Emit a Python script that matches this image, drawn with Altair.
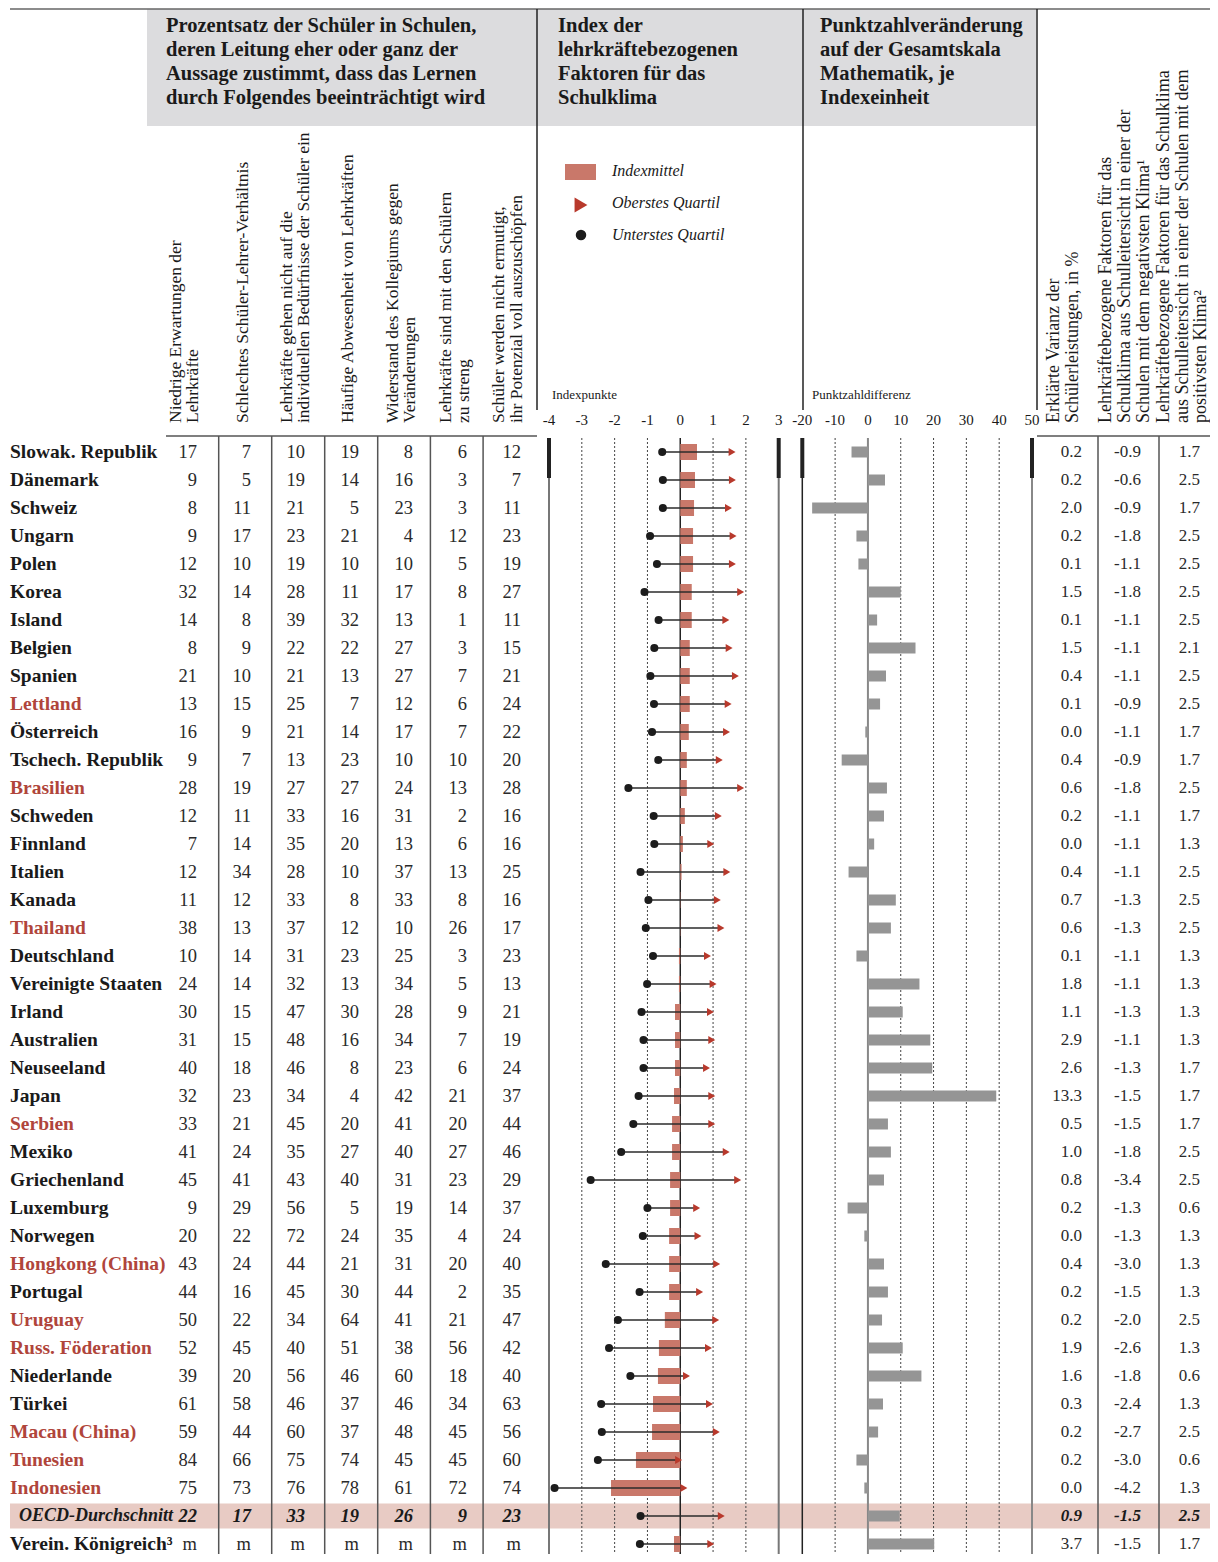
import altair as alt
import pandas as pd

# ---------------------------------------------------------------- data
COUNTRIES = [
    "Slowak. Republik", "Dänemark", "Schweiz", "Ungarn", "Polen", "Korea", "Island",
    "Belgien", "Spanien", "Lettland", "Österreich", "Tschech. Republik", "Brasilien",
    "Schweden", "Finnland", "Italien", "Kanada", "Thailand", "Deutschland",
    "Vereinigte Staaten", "Irland", "Australien", "Neuseeland", "Japan", "Serbien",
    "Mexiko", "Griechenland", "Luxemburg", "Norwegen", "Hongkong (China)", "Portugal",
    "Uruguay", "Russ. Föderation", "Niederlande", "Türkei", "Macau (China)", "Tunesien",
    "Indonesien", "OECD-Durchschnitt", "Verein. Königreich³",
]
PARTNER_COUNTRIES = [
    "Lettland", "Brasilien", "Thailand", "Serbien", "Hongkong (China)", "Uruguay",
    "Russ. Föderation", "Macau (China)", "Tunesien", "Indonesien",
]
AVERAGE_ROW = "OECD-Durchschnitt"

# percentage columns (None = "m")
LOW_EXPECTATIONS = [17, 9, 8, 9, 12, 32, 14, 8, 21, 13, 16, 9, 28, 12, 7, 12, 11, 38, 10, 24,
                    30, 31, 40, 32, 33, 41, 45, 9, 20, 43, 44, 50, 52, 39, 61, 59, 84, 75, 22, None]
STUDENT_TEACHER_RATIO = [7, 5, 11, 17, 10, 14, 8, 9, 10, 15, 9, 7, 19, 11, 14, 34, 12, 13, 14, 14,
                         15, 15, 18, 23, 21, 24, 41, 29, 22, 24, 16, 22, 45, 20, 58, 44, 66, 73, 17, None]
NOT_MEETING_NEEDS = [10, 19, 21, 23, 19, 28, 39, 22, 21, 25, 21, 13, 27, 33, 35, 28, 33, 37, 31, 32,
                     47, 48, 46, 34, 45, 35, 43, 56, 72, 44, 45, 34, 40, 56, 46, 60, 75, 76, 33, None]
TEACHER_ABSENCE = [19, 14, 5, 21, 10, 11, 32, 22, 13, 7, 14, 23, 27, 16, 20, 10, 8, 12, 23, 13,
                   30, 16, 8, 4, 20, 27, 40, 5, 24, 21, 30, 64, 51, 46, 37, 37, 74, 78, 19, None]
RESIST_CHANGE = [8, 16, 23, 4, 10, 17, 13, 27, 27, 12, 17, 10, 24, 31, 13, 37, 33, 10, 25, 34,
                 28, 34, 23, 42, 41, 40, 31, 19, 35, 31, 44, 41, 38, 60, 46, 48, 45, 61, 26, None]
TOO_STRICT = [6, 3, 3, 12, 5, 8, 1, 3, 7, 6, 7, 10, 13, 2, 6, 13, 8, 26, 3, 5,
              9, 7, 6, 21, 20, 27, 23, 14, 4, 20, 2, 21, 56, 18, 34, 45, 45, 72, 9, None]
NOT_ENCOURAGED = [12, 7, 11, 23, 19, 27, 11, 15, 21, 24, 22, 20, 28, 16, 16, 25, 16, 17, 23, 13,
                  21, 19, 24, 37, 44, 46, 29, 37, 24, 40, 35, 47, 42, 40, 63, 56, 60, 74, 23, None]

# index of teacher-related factors
IDX_MEAN = [0.51, 0.45, 0.42, 0.39, 0.39, 0.35, 0.35, 0.29, 0.29, 0.29, 0.26, 0.20, 0.20, 0.14,
            0.08, 0.04, 0.01, 0.01, -0.04, -0.04, -0.16, -0.16, -0.16, -0.19, -0.25, -0.25, -0.31,
            -0.31, -0.34, -0.34, -0.34, -0.47, -0.65, -0.68, -0.83, -0.86, -1.35, -2.11, 0.0, -0.19]
IDX_BOTTOM_Q = [-0.55, -0.53, -0.53, -0.92, -0.71, -1.09, -0.66, -0.79, -0.91, -0.80, -0.86, -0.67,
                -1.58, -0.81, -0.79, -1.21, -0.97, -1.05, -0.83, -1.01, -1.18, -1.12, -1.12, -1.27,
                -1.43, -1.80, -2.73, -1.00, -1.14, -2.27, -1.24, -1.90, -2.17, -1.52, -2.41, -2.39,
                -2.51, -3.83, -1.21, -1.23]
IDX_TOP_Q = [1.58, 1.59, 1.47, 1.61, 1.59, 1.84, 1.39, 1.49, 1.68, 1.46, 1.41, 1.19, 1.84, 1.16,
             0.93, 1.42, 1.13, 1.24, 0.83, 1.00, 0.92, 0.96, 0.80, 0.96, 0.96, 1.40, 1.75, 0.50,
             0.54, 1.11, 0.59, 1.08, 0.86, 0.19, 0.89, 1.10, -0.05, 0.11, 1.25, 0.93]

# score change per index unit
SCORE_CHANGE = [-5.0, 5.2, -17.0, -3.5, -2.9, 10.0, 2.8, 14.5, 5.5, 3.7, -0.8, -8.0, 5.8, 4.9, 1.9,
                -5.9, 8.5, 7.0, -3.5, 15.7, 10.6, 19.0, 19.6, 39.1, 6.1, 7.0, 4.9, -6.2, -1.1, 4.9,
                6.1, 4.3, 10.6, 16.3, 4.6, 3.1, -3.5, -1.1, 9.7, 20.2]

VAR_EXPLAINED = [0.2, 0.2, 2.0, 0.2, 0.1, 1.5, 0.1, 1.5, 0.4, 0.1, 0.0, 0.4, 0.6, 0.2, 0.0, 0.4, 0.7,
                 0.6, 0.1, 1.8, 1.1, 2.9, 2.6, 13.3, 0.5, 1.0, 0.8, 0.2, 0.0, 0.4, 0.2, 0.2, 1.9,
                 1.6, 0.3, 0.2, 0.2, 0.0, 0.9, 3.7]
NEG_CLIMATE = [-0.9, -0.6, -0.9, -1.8, -1.1, -1.8, -1.1, -1.1, -1.1, -0.9, -1.1, -0.9, -1.8, -1.1,
               -1.1, -1.1, -1.3, -1.3, -1.1, -1.1, -1.3, -1.1, -1.3, -1.5, -1.5, -1.8, -3.4, -1.3,
               -1.3, -3.0, -1.5, -2.0, -2.6, -1.8, -2.4, -2.7, -3.0, -4.2, -1.5, -1.5]
POS_CLIMATE = [1.7, 2.5, 1.7, 2.5, 2.5, 2.5, 2.5, 2.1, 2.5, 2.5, 1.7, 1.7, 2.5, 1.7, 1.3, 2.5, 2.5,
               2.5, 1.3, 1.3, 1.3, 1.3, 1.7, 1.7, 1.7, 2.5, 2.5, 0.6, 1.3, 1.3, 1.3, 2.5, 1.3, 0.6,
               1.3, 2.5, 0.6, 1.3, 2.5, 1.7]

IDX_TICKS = [-4, -3, -2, -1, 0, 1, 2, 3]
SCORE_TICKS = [-20, -10, 0, 10, 20, 30, 40, 50]

TITLE_PCT = ["Prozentsatz der Schüler in Schulen,", "deren Leitung eher oder ganz der",
             "Aussage zustimmt, dass das Lernen", "durch Folgendes beeinträchtigt wird"]
TITLE_IDX = ["Index der", "lehrkräftebezogenen", "Faktoren für das", "Schulklima"]
TITLE_SCORE = ["Punktzahlveränderung", "auf der Gesamtskala", "Mathematik, je", "Indexeinheit"]

COL_HEADERS = [
    ["Niedrige Erwartungen der", "Lehrkräfte"],
    ["Schlechtes Schüler-Lehrer-Verhältnis"],
    ["Lehrkräfte gehen nicht auf die", "individuellen Bedürfnisse der Schüler ein"],
    ["Häufige Abwesenheit von Lehrkräften"],
    ["Widerstand des Kollegiums gegen", "Veränderungen"],
    ["Lehrkräfte sind mit den Schülern", "zu streng"],
    ["Schüler werden nicht ermutigt,", "ihr Potenzial voll auszuschöpfen"],
]
RIGHT_HEADERS = [
    ["Erklärte Varianz der", "Schülerleistungen, in %"],
    ["Lehrkräftebezogene Faktoren für das", "Schulklima aus Schulleitersicht in einer der",
     "Schulen mit dem negativsten Klima¹"],
    ["Lehrkräftebezogene Faktoren für das Schulklima",
     "aus Schulleitersicht in einer der Schulen mit dem", "positivsten Klima²"],
]
LEGEND_LABELS = ["Indexmittel", "Oberstes Quartil", "Unterstes Quartil"]

# ---------------------------------------------------------------- style / layout
FONT = "Liberation Serif"
INK = "#1a1a1a"
NUM_INK = "#2a2a2a"
RED_TEXT = "#b0453b"
SALMON = "#c9786a"
TRI_RED = "#b8392c"
BAR_GREY = "#959595"
HEADER_GREY = "#dcdcde"
PINK = "#e8cbc4"

MARGIN = 8
W, H = 1202, 1546


def px(v):
    return v - MARGIN


ROW_TOP, ROW_BOTTOM = 438, 1558
Y_SCALE = alt.Scale(domain=COUNTRIES, range=[px(ROW_TOP), px(ROW_BOTTOM)],
                    paddingInner=0, paddingOuter=0)
IDX_SCALE = alt.Scale(domain=[-4, 3], range=[px(549), px(778.7)], nice=False, zero=False)
SCORE_SCALE = alt.Scale(domain=[-20, 50], range=[px(802.3), px(1032)], nice=False, zero=False)
TABLE_KEYS = ["c1", "c2", "c3", "c4", "c5", "c6", "c7"]
RIGHT_KEYS = ["r1", "r2", "r3"]
TABLE_SCALE = alt.Scale(domain=TABLE_KEYS, range=[px(197), px(521)], padding=0)
RIGHT_SCALE = alt.Scale(domain=RIGHT_KEYS, range=[px(1082), px(1200)], padding=0)


def yenc():
    return alt.Y("country:N", scale=Y_SCALE, axis=None)


one = pd.DataFrame({"k": [0]})


def vrule(xp, y1, y2, color, width, dash=None):
    mk = dict(color=color, strokeWidth=width)
    if dash:
        mk["strokeDash"] = dash
    return alt.Chart(one).mark_rule(**mk).encode(
        x=alt.value(px(xp)), y=alt.value(px(y1)), y2=alt.value(px(y2)))


def hrule(x1, x2, yp, color, width):
    return alt.Chart(one).mark_rule(color=color, strokeWidth=width).encode(
        x=alt.value(px(x1)), x2=alt.value(px(x2)), y=alt.value(px(yp)))


def label(text, xp, yp, size, weight="normal", style="normal", align="left",
          angle=None, color=INK, baseline="middle"):
    mk = dict(text=text, font=FONT, fontSize=size, fontWeight=weight, fontStyle=style,
              align=align, baseline=baseline, color=color)
    if angle is not None:
        mk["angle"] = angle
    return alt.Chart(one).mark_text(**mk).encode(x=alt.value(px(xp)), y=alt.value(px(yp)))


# ---------------------------------------------------------------- frames
df = pd.DataFrame({
    "country": COUNTRIES,
    "mean": IDX_MEAN,
    "low": IDX_BOTTOM_Q,
    "high": IDX_TOP_Q,
    "score": SCORE_CHANGE,
})
df["grp"] = ["partner" if c in PARTNER_COUNTRIES else "oecd" for c in COUNTRIES]

table_cols = [LOW_EXPECTATIONS, STUDENT_TEACHER_RATIO, NOT_MEETING_NEEDS, TEACHER_ABSENCE,
              RESIST_CHANGE, TOO_STRICT, NOT_ENCOURAGED]
rows = []
for key, col in zip(TABLE_KEYS, table_cols):
    for c, v in zip(COUNTRIES, col):
        rows.append({"country": c, "col": key, "label": "m" if v is None else str(v)})
tab = pd.DataFrame(rows)

rrows = []
for key, col in zip(RIGHT_KEYS, [VAR_EXPLAINED, NEG_CLIMATE, POS_CLIMATE]):
    for c, v in zip(COUNTRIES, col):
        rrows.append({"country": c, "col": key, "label": f"{v:.1f}"})
rtab = pd.DataFrame(rrows)

layers = []

# OECD highlight band
layers.append(
    alt.Chart(df[df.country == AVERAGE_ROW]).mark_bar(size=25, color=PINK).encode(
        y=yenc(), x=alt.value(px(10)), x2=alt.value(W))
)

# header box & separators
layers.append(alt.Chart(one).mark_rect(color=HEADER_GREY).encode(
    x=alt.value(px(147)), x2=alt.value(px(1036)), y=alt.value(px(9)), y2=alt.value(px(126))))
layers.append(hrule(10, 1218, 9, "#666", 1.5))
for xs in [537, 803, 1037]:
    layers.append(vrule(xs, 9, 410, "#222", 1.5))

# table lines
layers.append(hrule(166, 537, 436, "#555", 1.5))
layers.append(hrule(1037, 1218, 436, "#555", 1.5))
for xs in [218.7, 271.7, 324.7, 377.7, 430.4, 483.1, 1098, 1159]:
    layers.append(vrule(xs, 436, H + MARGIN, "#555", 1.5))

# index panel grid
idx_grid = pd.DataFrame({"v": [-3, -2, -1, 1, 2]})
layers.append(alt.Chart(idx_grid).mark_rule(color="#444", strokeWidth=1, strokeDash=[2, 2]).encode(
    x=alt.X("v:Q", scale=IDX_SCALE, axis=None), y=alt.value(px(438)), y2=alt.value(H)))
layers.append(alt.Chart(pd.DataFrame({"v": [0]})).mark_rule(color="#222", strokeWidth=1.5).encode(
    x=alt.X("v:Q", scale=IDX_SCALE, axis=None), y=alt.value(px(438)), y2=alt.value(H)))
layers.append(alt.Chart(pd.DataFrame({"v": [-4, 3]})).mark_rule(color="#777", strokeWidth=2).encode(
    x=alt.X("v:Q", scale=IDX_SCALE, axis=None), y=alt.value(px(478)), y2=alt.value(H)))
layers.append(alt.Chart(pd.DataFrame({"v": [-4, 3]})).mark_rule(color="#222", strokeWidth=4).encode(
    x=alt.X("v:Q", scale=IDX_SCALE, axis=None), y=alt.value(px(438)), y2=alt.value(px(478))))

# score panel grid
sc_grid = pd.DataFrame({"v": [-10, 10, 20, 30, 40]})
layers.append(alt.Chart(sc_grid).mark_rule(color="#444", strokeWidth=1, strokeDash=[2, 2]).encode(
    x=alt.X("v:Q", scale=SCORE_SCALE, axis=None), y=alt.value(px(438)), y2=alt.value(H)))
layers.append(alt.Chart(pd.DataFrame({"v": [0]})).mark_rule(color="#888", strokeWidth=2).encode(
    x=alt.X("v:Q", scale=SCORE_SCALE, axis=None), y=alt.value(px(438)), y2=alt.value(H)))
layers.append(alt.Chart(pd.DataFrame({"v": [-20]})).mark_rule(color="#222", strokeWidth=1.5).encode(
    x=alt.X("v:Q", scale=SCORE_SCALE, axis=None), y=alt.value(px(478)), y2=alt.value(H)))
layers.append(alt.Chart(pd.DataFrame({"v": [50]})).mark_rule(color="#888", strokeWidth=2).encode(
    x=alt.X("v:Q", scale=SCORE_SCALE, axis=None), y=alt.value(px(478)), y2=alt.value(H)))
layers.append(alt.Chart(pd.DataFrame({"v": [-20, 50]})).mark_rule(color="#222", strokeWidth=4).encode(
    x=alt.X("v:Q", scale=SCORE_SCALE, axis=None), y=alt.value(px(438)), y2=alt.value(px(478))))

# tick labels
idx_t = pd.DataFrame({"v": IDX_TICKS, "lbl": [str(t) for t in IDX_TICKS]})
layers.append(alt.Chart(idx_t).mark_text(font=FONT, fontSize=15, color=INK).encode(
    x=alt.X("v:Q", scale=IDX_SCALE, axis=None), y=alt.value(px(420)), text="lbl:N"))
sc_t = pd.DataFrame({"v": SCORE_TICKS, "lbl": [str(t) for t in SCORE_TICKS]})
layers.append(alt.Chart(sc_t).mark_text(font=FONT, fontSize=15, color=INK).encode(
    x=alt.X("v:Q", scale=SCORE_SCALE, axis=None), y=alt.value(px(420)), text="lbl:N"))
layers.append(label("Indexpunkte", 552, 395, 13))
layers.append(label("Punktzahldifferenz", 812, 395, 13))

# index marks
layers.append(alt.Chart(df).mark_bar(size=16, color=SALMON).encode(
    y=yenc(), x=alt.X("mean:Q", scale=IDX_SCALE, axis=None)))
layers.append(alt.Chart(df).mark_rule(color="#2b2b2b", strokeWidth=1.5).encode(
    y=yenc(), x=alt.X("low:Q", scale=IDX_SCALE, axis=None), x2="high:Q"))
layers.append(alt.Chart(df).mark_point(filled=True, shape="circle", size=65, color="#1c1c1c",
                                       opacity=1).encode(
    y=yenc(), x=alt.X("low:Q", scale=IDX_SCALE, axis=None)))
layers.append(alt.Chart(df).mark_point(filled=True, shape="triangle-right", size=64, color=TRI_RED,
                                       opacity=1).encode(
    y=yenc(), x=alt.X("high:Q", scale=IDX_SCALE, axis=None)))

# score bars
layers.append(alt.Chart(df).mark_bar(size=11, color=BAR_GREY).encode(
    y=yenc(), x=alt.X("score:Q", scale=SCORE_SCALE, axis=None)))

# legend
layers.append(alt.Chart(one).mark_rect(color=SALMON).encode(
    x=alt.value(px(565)), x2=alt.value(px(596)), y=alt.value(px(164)), y2=alt.value(px(180))))
layers.append(alt.Chart(one).mark_point(filled=True, shape="triangle-right", size=220,
                                        color=TRI_RED, opacity=1).encode(
    x=alt.value(px(581)), y=alt.value(px(205))))
layers.append(alt.Chart(one).mark_point(filled=True, shape="circle", size=110,
                                        color="#1c1c1c", opacity=1).encode(
    x=alt.value(px(581)), y=alt.value(px(235))))
for txt, yy in zip(LEGEND_LABELS, [171, 203, 235]):
    layers.append(label(txt, 612, yy, 16, style="italic"))

# titles
for lines, xx in [(TITLE_PCT, 166), (TITLE_IDX, 558), (TITLE_SCORE, 820)]:
    for i, ln in enumerate(lines):
        layers.append(label(ln, xx, 26 + 24 * i, 20.5, weight="bold"))

# rotated column headers
HEAD_X = [[176, 193], [243], [287, 304], [348], [393, 410], [446, 464], [499, 517]]
for lines, xs in zip(COL_HEADERS, HEAD_X):
    for ln, xx in zip(lines, xs):
        layers.append(label(ln, xx, 423, 17.5, angle=270))
RHEAD_X = [[1054, 1073], [1106, 1125, 1144], [1164, 1183, 1201]]
for lines, xs in zip(RIGHT_HEADERS, RHEAD_X):
    for ln, xx in zip(lines, xs):
        layers.append(label(ln, xx, 423, 18, angle=270))

# country names
names = df[df.country != AVERAGE_ROW]
layers.append(alt.Chart(names).mark_text(font=FONT, fontSize=19.5, fontWeight="bold",
                                         align="left").encode(
    y=yenc(), x=alt.value(px(10)), text="country:N",
    color=alt.Color("grp:N", scale=alt.Scale(domain=["oecd", "partner"], range=[INK, RED_TEXT]),
                    legend=None)))
layers.append(alt.Chart(df[df.country == AVERAGE_ROW]).mark_text(
    font=FONT, fontSize=18, fontWeight="bold", fontStyle="italic", align="left", color=INK).encode(
    y=yenc(), x=alt.value(px(19)), text="country:N"))

# table numbers
layers.append(alt.Chart(tab[tab.country != AVERAGE_ROW]).mark_text(
    font=FONT, fontSize=18.5, align="right", color=NUM_INK).encode(
    y=yenc(), x=alt.X("col:N", scale=TABLE_SCALE, axis=None), text="label:N"))
layers.append(alt.Chart(tab[tab.country == AVERAGE_ROW]).mark_text(
    font=FONT, fontSize=18.5, align="right", color=INK, fontWeight="bold", fontStyle="italic").encode(
    y=yenc(), x=alt.X("col:N", scale=TABLE_SCALE, axis=None), text="label:N"))

# right numbers
layers.append(alt.Chart(rtab[rtab.country != AVERAGE_ROW]).mark_text(
    font=FONT, fontSize=17, align="right", color=NUM_INK).encode(
    y=yenc(), x=alt.X("col:N", scale=RIGHT_SCALE, axis=None), text="label:N"))
layers.append(alt.Chart(rtab[rtab.country == AVERAGE_ROW]).mark_text(
    font=FONT, fontSize=17, align="right", color=INK, fontWeight="bold", fontStyle="italic").encode(
    y=yenc(), x=alt.X("col:N", scale=RIGHT_SCALE, axis=None), text="label:N"))

chart = alt.layer(*layers).resolve_scale(x="independent").properties(
    width=W, height=H, autosize=alt.AutoSizeParams(type="none"), padding=0,
    background="white",
).configure_view(stroke=None)

chart.save("out.html", embed_options={"renderer": "svg", "actions": False})
